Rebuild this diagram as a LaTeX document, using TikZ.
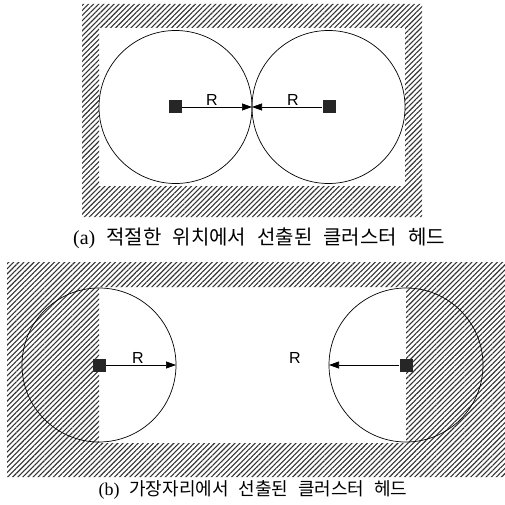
\documentclass[tikz,border=0pt]{standalone}
\usepackage{fontspec}
\setmainfont{Liberation Serif}
\setsansfont{Liberation Sans}
\newfontfamily\krfont{Noto Sans CJK KR}
\usetikzlibrary{patterns.meta,arrows.meta}

\newcommand\wsp{\hspace{0.55em}}

\tikzset{
  hatched/.style={pattern={Lines[angle=45,distance=3.6pt,line width=1.1pt]},pattern color=black!80,even odd rule},
  headbox/.style={fill=black!85,minimum size=13pt,inner sep=0pt},
  rangeline/.style={-{Triangle[length=10pt,width=7pt]},line width=0.7pt},
  rlabel/.style={font=\sffamily\fontsize{16}{16}\selectfont},
  caption/.style={font=\fontsize{#1}{#1}\selectfont}
}

\begin{document}
\begin{tikzpicture}[x=1pt,y=-1pt]
  \useasboundingbox (0,0) rectangle (505,505);

  % (a) heads at proper positions
  \path[hatched] (82,4) rectangle (422,217) (99,28) rectangle (405,186);
  \path[draw,line width=0.7pt] (175.5,107) circle[radius=76.5];
  \path[draw,line width=0.7pt] (328.5,107) circle[radius=76.5];
  \node[headbox] (headA1) at (175,107) {};
  \node[headbox] (headA2) at (329,107) {};
  \coordinate (touchA) at (252,107);
  \draw[rangeline] (headA1) -- (touchA);
  \draw[rangeline] (headA2) -- (touchA);
  \node[rlabel] (rA1) at (212,100) {R};
  \node[rlabel] (rA2) at (293,100) {R};
  \node[caption=20] (capA) at (259,238) {(a)\wsp{\krfont 적절한\wsp 위치에서\wsp 선출된\wsp 클러스터\wsp 헤드}};

  % (b) heads at the edge
  \path[hatched] (7,262) rectangle (505,477) (99,287) rectangle (406,443);
  \path[draw,line width=0.7pt] (99,365) circle[radius=77];
  \path[draw,line width=0.7pt] (406,365) circle[radius=77];
  \node[headbox] (headB1) at (99,365) {};
  \node[headbox] (headB2) at (406,365) {};
  \coordinate (edgeB1) at (176,365);
  \coordinate (edgeB2) at (329,365);
  \draw[rangeline] (headB1) -- (edgeB1);
  \draw[rangeline] (headB2) -- (edgeB2);
  \node[rlabel] (rB1) at (138,358) {R};
  \node[rlabel] (rB2) at (295,358) {R};
  \node[caption=18] (capB) at (253,490) {(b)\wsp{\krfont 가장자리에서\wsp 선출된\wsp 클러스터\wsp 헤드}};
\end{tikzpicture}
\end{document}
